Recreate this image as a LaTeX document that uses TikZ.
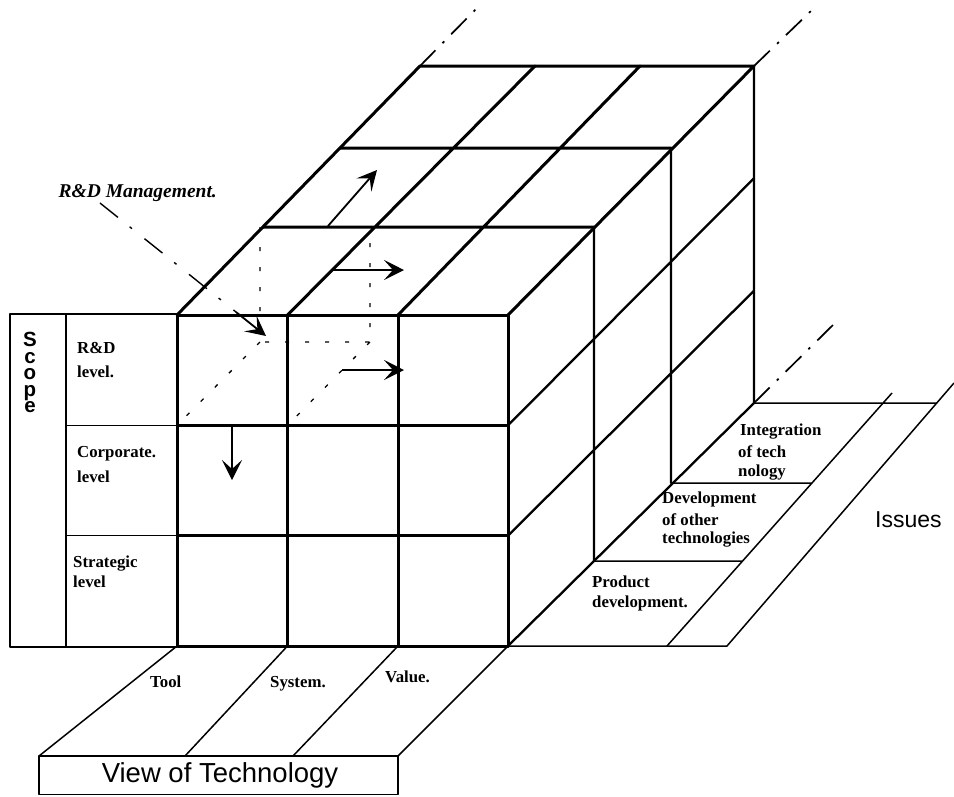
\documentclass[tikz,border=0pt]{standalone}
\usepackage{fontspec}
\setmainfont{Liberation Serif}
\newfontfamily\labelsans{Liberation Sans}
\usetikzlibrary{arrows.meta}
\begin{document}
\begin{tikzpicture}[x=1pt,y=-1pt,
  edge/.style={line width=3pt,line cap=round,line join=round},
  facet/.style={line width=2.3pt,line cap=round,line join=round},
  rule/.style={line width=1.5pt,line join=round},
  hidden/.style={line width=1.3pt,dash pattern=on 4pt off 16pt},
  onward/.style={line width=1.7pt,dash pattern=on 22pt off 10pt on 2.5pt off 10pt},
  leader/.style={line width=1.4pt,dash pattern=on 23pt off 15pt on 3pt off 16pt},
  move/.style={line width=1.8pt,-{Stealth[length=20pt,width=20pt,inset=9pt]}},
  cell/.style={inner sep=0pt,anchor=base west,font=\bfseries\fontsize{16.8}{18}\selectfont},
  heading/.style={inner sep=0pt,font=\labelsans\fontsize{#1}{#1}\selectfont}]
\useasboundingbox (0,0) rectangle (954,796);
\fill[white] (0,0) rectangle (954,796);

% ---- floor of issues (right) ----
\draw[rule] (508,646) -- (727,646) -- (954,383);
\draw[rule] (754,403) -- (937,403)
            (594,561) -- (742.6,561)
            (671,483) -- (812,483)
            (667,646) -- (892,393);

% ---- strip for the view of technology (bottom) ----
\draw[rule] (177,646) -- (39,756)
            (287.5,646) -- (185,756)
            (398,646) -- (293,756)
            (398,756) -- (508,646);
\draw[rule] (39,756) rectangle (398,794.5);

% ---- scope table (left) ----
\draw[rule] (177,314) -- (10,314) -- (10,647) -- (177,647)
            (66,314) -- (66,647)
            (66,425.3) -- (177,425.3)
            (66,535.7) -- (177,535.7);

% ---- continuation of the cube in depth ----
\draw[onward] (420,66) -- (477,8)
              (754,66) -- (812,10)
              (754,403) -- (836,322);

% ---- right face ----
\draw[facet] (508,646) -- (754,403) -- (754,66);
\draw[facet] (594,227) -- (594,561)
             (671,148) -- (671,483)
             (508,425.3) -- (754,178.3)
             (508,535.7) -- (754,290.7);

% ---- top face ----
\draw[edge] (177,315) -- (420,66) -- (754,66) -- (508,315);
\draw[edge] (263,227) -- (594,227)
            (340,148) -- (671,148)
            (287.5,315) -- (535,66)
            (398,315) -- (640,66);

% ---- front face ----
\draw[edge] (177,315) rectangle (508,646);
\draw[edge] (287.5,315) -- (287.5,646)
            (398,315) -- (398,646)
            (177,425.3) -- (508,425.3)
            (177,535.7) -- (508,535.7);

% ---- hidden edges of the first cell ----
\draw[hidden] (260,227) -- (260,342) -- (370,342) -- (370,227)
              (260,342) -- (177,425.3)
              (370,342) -- (287.5,425.3);

% ---- movements ----
\coordinate (m1a) at (328,226);   \coordinate (m1b) at (377,170);
\coordinate (m2a) at (333,270);   \coordinate (m2b) at (404,270);
\coordinate (m3a) at (342,370);   \coordinate (m3b) at (404,370);
\coordinate (m4a) at (232,427);   \coordinate (m4b) at (232,480);
\draw[move] (m1a) -- (m1b);
\draw[move] (m2a) -- (m2b);
\draw[move] (m3a) -- (m3b);
\draw[move] (m4a) -- (m4b);

% ---- R&D management pointer ----
\node[inner sep=0pt,anchor=base east,font=\bfseries\itshape\fontsize{19.5}{20}\selectfont] (mgmt) at (217,197) {R\&D Management.};
\coordinate (lead0) at (100,203);
\coordinate (lead1) at (236,312);
\coordinate (lead2) at (266,336);
\draw[leader] (lead0) -- (lead1);
\draw[move] (lead1) -- (lead2);

% ---- scope labels ----
\node[inner sep=0pt,anchor=north,align=center,
      font=\labelsans\bfseries\fontsize{20.5}{16.6}\selectfont] (scope) at (30,332) {S\\c\\o\\p\\e};

\node[cell] (rd1) at (77,353) {R\&D};
\node[cell] (rd2) at (77,377) {level.};
\node[cell] (co1) at (77,457) {Corporate.};
\node[cell] (co2) at (77,482) {level};
\node[cell] (st1) at (73,567) {Strategic};
\node[cell] (st2) at (73,587) {level};

% ---- view labels ----
\node[cell] (tool) at (150,687) {Tool};
\node[cell] (sys) at (270,687) {System.};
\node[cell] (val) at (385,682) {Value.};
\node[heading=27.5,anchor=base] (view) at (220,782) {View of Technology};

% ---- issue labels ----
\node[cell] (in1) at (740,435) {Integration};
\node[cell] (in2) at (738,457) {of tech};
\node[cell] (in3) at (738,476) {nology};
\node[cell] (de1) at (662,503) {Development};
\node[cell] (de2) at (662,525) {of other};
\node[cell] (de3) at (662,543) {technologies};
\node[cell] (pr1) at (592,587) {Product};
\node[cell] (pr2) at (592,607) {development.};
\node[heading=23,anchor=base west] (issues) at (875,527) {Issues};
\end{tikzpicture}
\end{document}
